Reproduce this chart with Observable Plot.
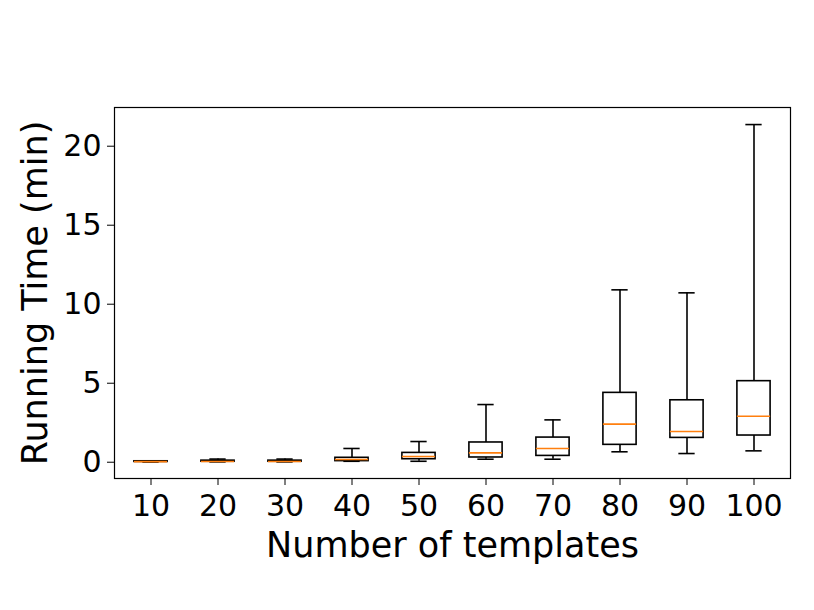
<!DOCTYPE html>
<html>
<head>
<meta charset="utf-8">
<script src="https://cdn.jsdelivr.net/npm/d3@7"></script>
<script src="https://cdn.jsdelivr.net/npm/@observablehq/plot@0.6"></script>
<style>
  html, body { margin: 0; padding: 0; background: #fff; }
  #chart { width: 814px; height: 610px; }
  #chart svg text { font-family: "DejaVu Sans", sans-serif; fill: #000; }
  #chart svg g[aria-label="x-axis label"] text,
  #chart svg g[aria-label="y-axis label"] text { font-size: 35px !important; }
</style>
</head>
<body>
<div id="chart"></div>
<script>
const categories = ["10", "20", "30", "40", "50", "60", "70", "80", "90", "100"];
const whiskerLow  = [0.01, 0.02, 0.02, 0.06, 0.06, 0.19, 0.19, 0.66, 0.55, 0.72];
const quartile1   = [0.02, 0.03, 0.03, 0.07, 0.19, 0.30, 0.40, 1.10, 1.54, 1.69];
const medians     = [0.04, 0.05, 0.05, 0.17, 0.36, 0.59, 0.87, 2.41, 1.94, 2.91];
const quartile3   = [0.06, 0.10, 0.10, 0.28, 0.59, 1.25, 1.56, 4.39, 3.92, 5.13];
const whiskerHigh = [0.08, 0.20, 0.20, 0.87, 1.31, 3.65, 2.68, 10.91, 10.72, 21.37];
const yTicks = [0, 5, 10, 15, 20];

const data = categories.map((c, i) => ({
  cat: c, lo: whiskerLow[i], q1: quartile1[i], med: medians[i], q3: quartile3[i], hi: whiskerHigh[i]
}));

const orange = "#ff7f0e";
const lw = 1.6;

const chart = Plot.plot({
  width: 814,
  height: 610,
  marginLeft: 114,
  marginRight: 24,
  marginTop: 107,
  marginBottom: 132,
  style: { fontFamily: "DejaVu Sans", fontSize: "30px", color: "#000", background: "#fff" },
  x: { type: "band", domain: categories, padding: 0 },
  y: { domain: [-1.03, 22.45] },
  marks: [
    Plot.ruleX(data, { x: "cat", y1: "lo", y2: "q1", stroke: "#000", strokeWidth: lw }),
    Plot.ruleX(data, { x: "cat", y1: "q3", y2: "hi", stroke: "#000", strokeWidth: lw }),
    Plot.tickY(data, { x: "cat", y: "lo", stroke: "#000", strokeWidth: lw, insetLeft: 25.35, insetRight: 25.35 }),
    Plot.tickY(data, { x: "cat", y: "hi", stroke: "#000", strokeWidth: lw, insetLeft: 25.35, insetRight: 25.35 }),
    Plot.rectY(data, { x: "cat", y1: "q1", y2: "q3", fill: "none", stroke: "#000", strokeWidth: lw, insetLeft: 16.9, insetRight: 16.9 }),
    Plot.tickY(data, { x: "cat", y: "med", stroke: orange, strokeWidth: lw, insetLeft: 16.9, insetRight: 16.9 }),
    Plot.frame({ stroke: "#000", strokeWidth: 1.2 }),
    Plot.axisX({ tickSize: 7, tickPadding: 9, label: "Number of templates", labelAnchor: "center", labelOffset: 78, labelArrow: "none", fontSize: 30 }),
    Plot.axisY({ ticks: yTicks, tickSize: 7, tickPadding: 6, label: "Running Time (min)", labelAnchor: "center", labelOffset: 92, labelArrow: "none", fontSize: 30 })
  ]
});
document.getElementById("chart").appendChild(chart);
</script>
</body>
</html>
